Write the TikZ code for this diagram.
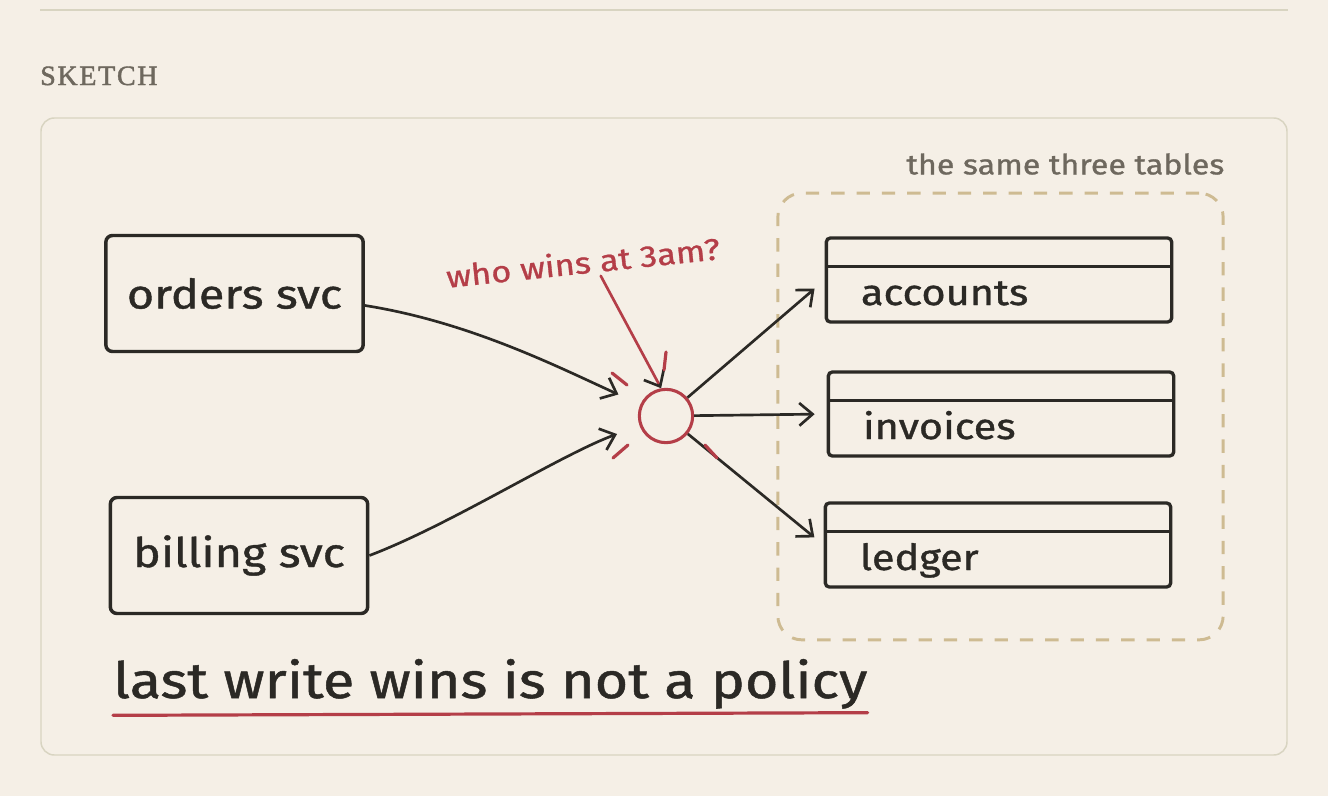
\documentclass[tikz,border=0pt]{standalone}
\usepackage{fontspec}
\usepackage{xcolor}
\usepackage{tikz}
\usetikzlibrary{arrows.meta,positioning}

\newfontfamily\handfont[FakeStretch=1.15,FakeBold=1]{Fira Sans}
\newfontfamily\capsfont[LetterSpace=6,FakeBold=1.5]{Liberation Serif}

\definecolor{paper}{RGB}{245,239,230}
\definecolor{cardline}{RGB}{216,212,193}
\definecolor{ink}{RGB}{43,41,37}
\definecolor{pen}{RGB}{180,62,72}
\definecolor{tan}{RGB}{206,187,146}
\definecolor{muted}{RGB}{110,104,94}

\tikzset{
  svc/.style={draw=ink, line width=2.6pt, rounded corners=5pt, minimum width=193pt, minimum height=87pt, text=ink, font=\handfont\fontsize{30.5}{30.5}\selectfont},
  tbl/.style={draw=ink, line width=2.5pt, rounded corners=3pt, minimum width=259pt, minimum height=63pt, inner xsep=26pt, text width=207pt, align=left, text height=37.5pt, text depth=0pt, text=ink, font=\handfont\fontsize{27}{27}\selectfont,
    path picture={\draw[ink, line width=2.5pt] ([yshift=-21.5pt]path picture bounding box.north west) -- ([yshift=-21.5pt]path picture bounding box.north east);}},
  hub/.style={circle, draw=pen, line width=2.3pt, minimum size=40pt, inner sep=0pt},
  group/.style={draw=tan, line width=2.2pt, dash pattern=on 10pt off 9pt, rounded corners=18pt, minimum width=334pt, minimum height=335pt},
  wire/.style={ink, line width=2pt, -{Straight Barb[length=10pt,width=17pt]}},
  penline/.style={pen, line width=2pt, line cap=round},
}

\begin{document}
\begin{tikzpicture}[x=0.75pt,y=0.75pt,yscale=-1,xscale=1]
\useasboundingbox (0,0) rectangle (1328,796);
\fill[paper] (0,0) rectangle (1328,796);
%Straight Lines
\draw[cardline, line width=1.5pt] (40,10) -- (1288,10);
% Text Node
\node[anchor=base west, inner sep=0pt, text=muted, font=\capsfont\fontsize{21}{21}\selectfont] (head) at (40,85) {SKETCH};
%Shape: Rectangle
\draw[cardline, line width=1.1pt, fill=paper, rounded corners=10pt] (41,118) rectangle (1287,755);

% services
\node[svc] (orders) at (234.5,293.5) {orders svc};
\node[svc] (billing) at (239,555.5) {billing svc};

% the write point
\node[hub] (hub) at (666,416) {};

% tables
\node[tbl] (accounts) at (999,280) {accounts};
\node[tbl] (invoices) at (1001,414) {invoices};
\node[tbl] (ledger) at (998,545) {ledger};
\node[group] (tables) at (1000.5,416.5) {};
% Text Node
\node[anchor=base east, inner sep=0pt, text=muted, font=\handfont\fontsize{21}{21}\selectfont] (same) at ([yshift=-13pt]tables.north east) {the same three tables};

% Text Node
\node[text=pen, rotate=6, font=\handfont\fontsize{22.5}{22.5}\selectfont] (question) at (583,262) {who wins at 3am?};

%Curve Lines
\draw[wire, shorten >=18pt] ([yshift=9pt]orders.east) .. controls (470,322) and (560,368) .. (hub);
\draw[wire, shorten >=18pt] (billing.east) .. controls (450,525) and (560,455) .. (hub);
%Straight Lines
\draw[penline, -{Straight Barb[color=ink,length=10pt,width=17pt]}] ([xshift=12pt,yshift=-2pt]question.south) -- (hub.100);
\draw[wire, shorten >=10pt] (hub) -- (accounts.west);
\draw[wire, shorten >=9pt] (hub) -- (invoices.west);
\draw[wire, shorten >=9pt] (hub) -- (ledger.west);
% red ticks round the write point
\foreach \ax/\ay/\bx/\by in {-54/-43/-39/-31, 0/-64/-2/-46, -53/42/-38/29, 39/29/51/42}
  \draw[penline, line width=2.4pt] ([shift={(\ax,\ay)}]hub.center) -- ([shift={(\bx,\by)}]hub.center);

% Text Node
\node[anchor=base west, inner sep=0pt, text=ink, font=\handfont\fontsize{37.5}{37.5}\selectfont] (policy) at (113,698) {last write wins is not a policy};
\draw[penline, line width=2.4pt] ([yshift=13pt]policy.base west) -- ([yshift=11pt]policy.base east);
\end{tikzpicture}
\end{document}
